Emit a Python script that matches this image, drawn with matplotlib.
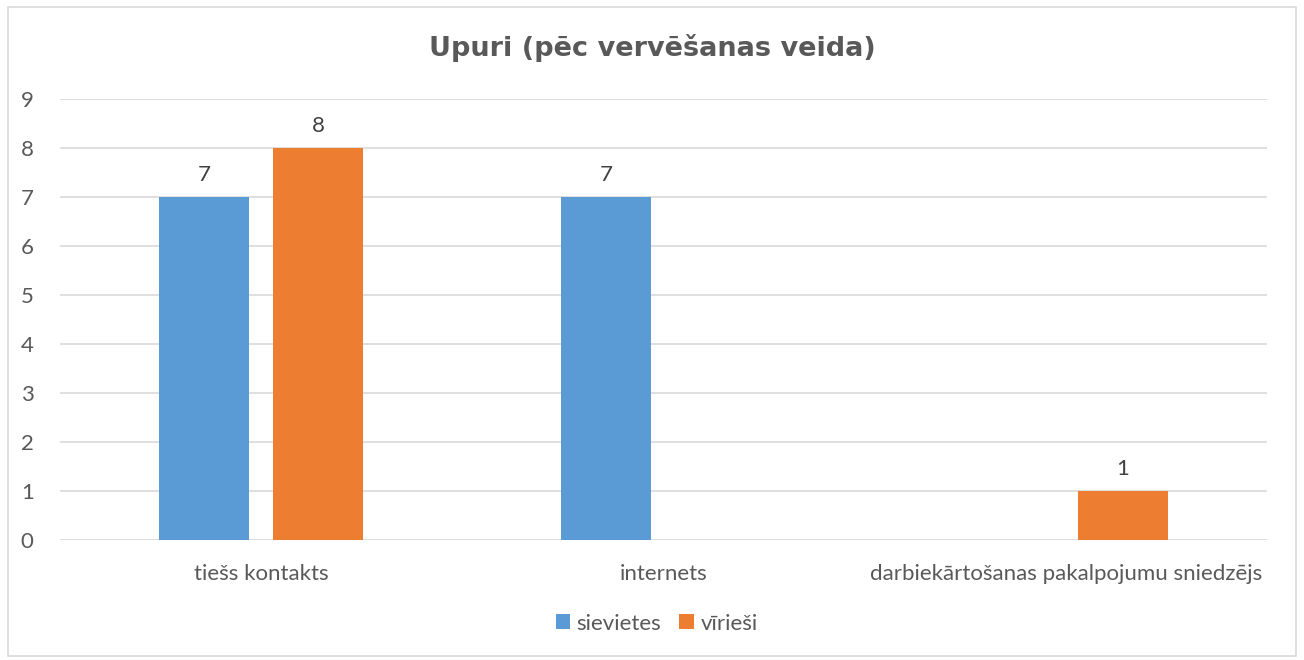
import numpy as np
import matplotlib
matplotlib.use("Agg")
import matplotlib.pyplot as plt
from matplotlib.patches import Rectangle

# dati
kategorijas = ["tiešs kontakts", "internets", "darbiekārtošanas pakalpojumu sniedzējs"]
sievietes = [7, 7, 0]
viriesi = [8, 0, 1]
serijas = ["sievietes", "vīrieši"]

zila = "#5b9bd5"
oranza = "#ed7d31"
teksts = "#595959"

plt.rcParams["font.family"] = ["Lato", "DejaVu Sans"]

fig = plt.figure(figsize=(13.04, 6.6), dpi=100)
ax = fig.add_axes([0.046, 0.1818, 0.9256, 0.6682])

# rāmis ap visu attēlu
fig.patches.append(Rectangle((0.006, 0.006), 0.988, 0.983, transform=fig.transFigure,
                             fill=False, edgecolor="#d9d9d9", linewidth=1.2))

x = np.arange(len(kategorijas))
w = 0.224
off = 0.142
b1 = ax.bar(x - off, sievietes, w, color=zila, label=serijas[0], zorder=3)
b2 = ax.bar(x + off, viriesi, w, color=oranza, label=serijas[1], zorder=3)

for bars, vals in ((b1, sievietes), (b2, viriesi)):
    for b, v in zip(bars, vals):
        if v:
            ax.text(b.get_x() + b.get_width() / 2, v + 0.25, str(v), ha="center",
                    va="bottom", fontsize=16, color="#404040")

ax.set_xlim(-0.5, len(kategorijas) - 0.5)
ax.set_ylim(0, 9)
ax.set_yticks(range(0, 10))
ax.set_xticks(x)
ax.set_xticklabels(kategorijas)
ax.tick_params(axis="both", length=0, labelsize=16, colors=teksts)
ax.tick_params(axis="y", pad=19)
ax.tick_params(axis="x", pad=17)
ax.grid(axis="y", color="#d9d9d9", linewidth=1.2, zorder=0)
for s in ax.spines.values():
    s.set_visible(False)

fig.text(0.5, 0.927, "Upuri (pēc vervēšanas veida)", ha="center", va="center",
         fontsize=19.5, fontweight="bold", color=teksts, family=["DejaVu Sans"])

fig.legend(handles=[b1, b2], labels=serijas, loc="center", bbox_to_anchor=(0.5035, 0.055),
           ncol=2, frameon=False, fontsize=16, labelcolor=teksts, handlelength=0.65,
           handleheight=0.65, handletextpad=0.3, columnspacing=0.8)

fig.savefig("out.png", dpi=100, facecolor="white")
